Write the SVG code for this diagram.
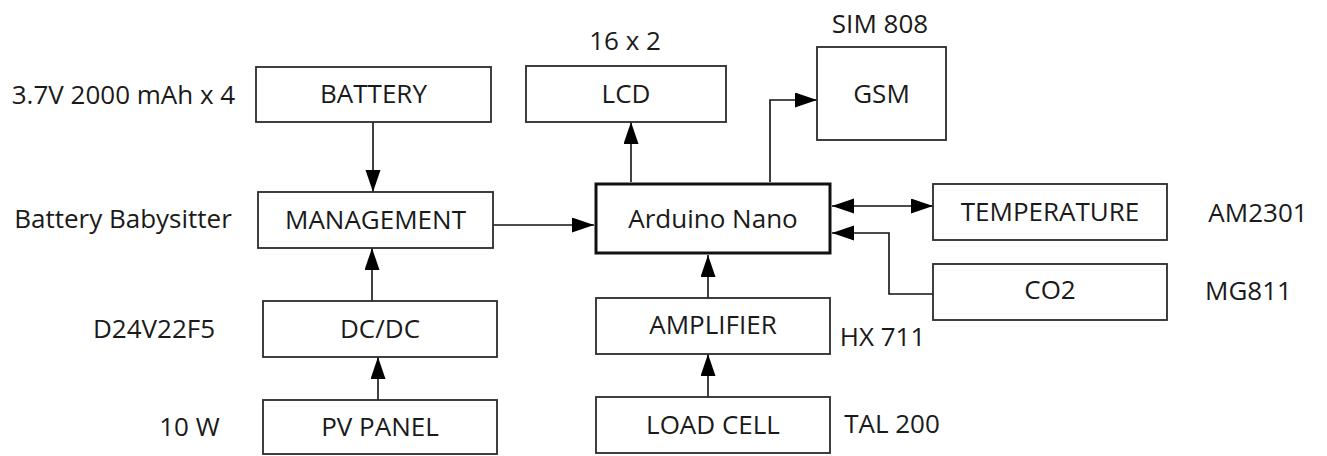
<svg xmlns="http://www.w3.org/2000/svg" width="1327" height="456" viewBox="0 0 1327 456">
<style>
.box{fill:#fff;stroke:#2b2b2b;stroke-width:1.8}
.main{fill:#fff;stroke:#111;stroke-width:3}
text{font-family:"Open Sans","Noto Sans","Liberation Sans",sans-serif;font-size:26px;fill:#1a1a1a;text-anchor:middle}
.c{fill:none;stroke:#111;stroke-width:1.6}
</style>
<defs>
<marker id="ah" markerUnits="userSpaceOnUse" markerWidth="22" markerHeight="16" refX="22" refY="7.5" orient="auto-start-reverse">
<path d="M0,0 L22,7.5 L0,15 Z" fill="#000"/>
</marker>
</defs>
<rect width="1327" height="456" fill="#fff"/>
<g id="connectors">
<path class="c" d="M373,122 V192" marker-end="url(#ah)"/>
<path class="c" d="M372,301 V248" marker-end="url(#ah)"/>
<path class="c" d="M378,400 V357" marker-end="url(#ah)"/>
<path class="c" d="M493,225 H594" marker-end="url(#ah)"/>
<path class="c" d="M631,182 V122" marker-end="url(#ah)"/>
<path class="c" d="M770,182 V100 H817" marker-end="url(#ah)"/>
<path class="c" d="M832,206 H933" marker-start="url(#ah)" marker-end="url(#ah)"/>
<path class="c" d="M933,294 H889 V233 H832" marker-end="url(#ah)"/>
<path class="c" d="M708,298 V255" marker-end="url(#ah)"/>
<path class="c" d="M708,397 V354" marker-end="url(#ah)"/>
</g>
<g id="battery"><rect class="box" x="256" y="67" width="235" height="55"/><text x="373.5" y="103">BATTERY</text></g>
<g id="management"><rect class="box" x="258" y="192" width="235" height="56"/><text x="375.5" y="229">MANAGEMENT</text></g>
<g id="dcdc"><rect class="box" x="263" y="301" width="234" height="56"/><text x="380" y="338">DC/DC</text></g>
<g id="pvpanel"><rect class="box" x="263" y="400" width="234" height="54"/><text x="380" y="436">PV PANEL</text></g>
<g id="lcd"><rect class="box" x="526" y="66" width="200" height="56"/><text x="626" y="103">LCD</text></g>
<g id="gsm"><rect class="box" x="817" y="47" width="129" height="93"/><text x="881.5" y="103">GSM</text></g>
<g id="arduino"><rect class="main" x="596" y="184" width="234" height="69"/><text x="713" y="228">Arduino Nano</text></g>
<g id="temperature"><rect class="box" x="933" y="184" width="234" height="56"/><text x="1050" y="221">TEMPERATURE</text></g>
<g id="co2"><rect class="box" x="933" y="264" width="234" height="56"/><text x="1050" y="299">CO2</text></g>
<g id="amplifier"><rect class="box" x="596" y="298" width="234" height="56"/><text x="713" y="334">AMPLIFIER</text></g>
<g id="loadcell"><rect class="box" x="596" y="397" width="234" height="56"/><text x="713" y="434">LOAD CELL</text></g>
<g id="labels">
<text x="123.5" y="104">3.7V 2000 mAh x 4</text>
<text x="123" y="228">Battery Babysitter</text>
<text x="154" y="338">D24V22F5</text>
<text x="189.5" y="436">10 W</text>
<text x="625" y="50">16 x 2</text>
<text x="880" y="33">SIM 808</text>
<text x="1258" y="222">AM2301</text>
<text x="1248.5" y="300">MG811</text>
<text x="882.5" y="346">HX 711</text>
<text x="892" y="433">TAL 200</text>
</g>
</svg>
